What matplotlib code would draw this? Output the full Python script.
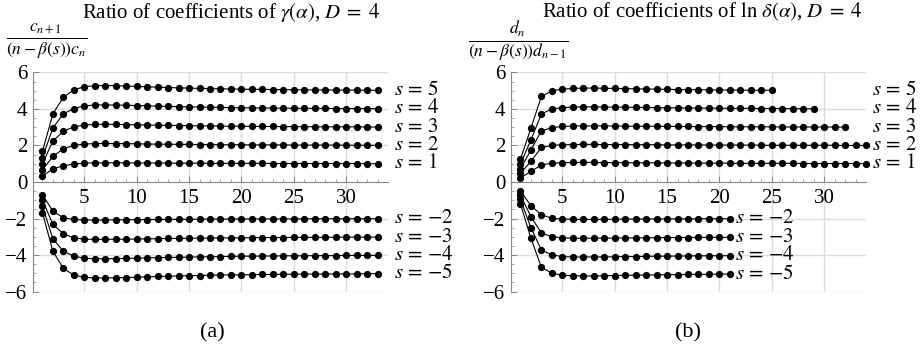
import numpy as np
import matplotlib
matplotlib.use("Agg")
import matplotlib.pyplot as plt

plt.rcParams['font.family'] = ['Liberation Serif', 'DejaVu Serif']
plt.rcParams['mathtext.fontset'] = 'stix'

# panel (a): c_{n+1} / ((n - beta(s)) c_n), n = 1..33
s_labels_pos = [5, 4, 3, 2, 1]
s_labels_neg = [-2, -3, -4, -5]

a_s5 = [1.67, 3.73, 4.64, 5.04, 5.22, 5.27, 5.28, 5.27, 5.25, 5.23, 5.21, 5.19, 5.17, 5.15, 5.14, 5.12, 5.11,
        5.10, 5.09, 5.08, 5.07, 5.07, 5.06, 5.05, 5.05, 5.04, 5.04, 5.04, 5.03, 5.03, 5.03, 5.02, 5.02]
a_s4 = [1.33, 2.96, 3.73, 4.02, 4.17, 4.21, 4.22, 4.21, 4.20, 4.18, 4.17, 4.15, 4.14, 4.12, 4.11, 4.10, 4.09,
        4.08, 4.07, 4.06, 4.06, 4.05, 4.05, 4.04, 4.04, 4.03, 4.03, 4.03, 4.02, 4.02, 4.02, 4.02, 4.01]
a_s3 = [1.00, 2.24, 2.78, 3.02, 3.12, 3.15, 3.16, 3.15, 3.14, 3.13, 3.12, 3.11, 3.10, 3.09, 3.08, 3.07, 3.07,
        3.06, 3.05, 3.05, 3.04, 3.04, 3.04, 3.03, 3.03, 3.03, 3.02, 3.02, 3.02, 3.02, 3.02, 3.01, 3.01]
a_s2 = [0.67, 1.40, 1.82, 2.00, 2.08, 2.10, 2.11, 2.10, 2.10, 2.09, 2.08, 2.07, 2.07, 2.06, 2.06, 2.05, 2.05,
        2.04, 2.04, 2.04, 2.03, 2.03, 2.03, 2.03, 2.02, 2.02, 2.02, 2.02, 2.02, 2.01, 2.01, 2.01, 2.01]
a_s1 = [0.31, 0.73, 0.89, 0.98, 1.03, 1.05, 1.05, 1.05, 1.05, 1.04, 1.04, 1.04, 1.03, 1.03, 1.03, 1.03, 1.02,
        1.02, 1.02, 1.02, 1.02, 1.02, 1.01, 1.01, 1.01, 1.01, 1.01, 1.01, 1.01, 1.01, 1.01, 1.00, 1.00]
a_sm2 = [-0.69, -1.60, -1.96, -2.05, -2.08, -2.08, -2.08, -2.07, -2.07, -2.06, -2.06, -2.05, -2.05, -2.04, -2.04,
         -2.04, -2.03, -2.03, -2.03, -2.03, -2.02, -2.02, -2.02, -2.02, -2.02, -2.02, -2.01, -2.01, -2.01, -2.01,
         -2.01, -2.01, -2.01]
a_sm3 = [-0.98, -2.32, -2.83, -3.06, -3.13, -3.14, -3.14, -3.13, -3.13, -3.12, -3.11, -3.10, -3.09, -3.09, -3.08,
         -3.07, -3.07, -3.06, -3.06, -3.05, -3.05, -3.04, -3.04, -3.04, -3.03, -3.03, -3.03, -3.03, -3.02, -3.02,
         -3.02, -3.02, -3.02]
a_sm4 = [-1.33, -3.10, -3.79, -4.06, -4.17, -4.20, -4.20, -4.19, -4.18, -4.17, -4.15, -4.14, -4.13, -4.12, -4.11,
         -4.10, -4.09, -4.08, -4.07, -4.06, -4.06, -4.05, -4.05, -4.04, -4.04, -4.04, -4.03, -4.03, -4.03, -4.02,
         -4.02, -4.02, -4.02]
a_sm5 = [-1.68, -3.79, -4.73, -5.09, -5.22, -5.25, -5.25, -5.24, -5.23, -5.21, -5.19, -5.17, -5.16, -5.14, -5.13,
         -5.12, -5.10, -5.09, -5.08, -5.08, -5.07, -5.06, -5.06, -5.05, -5.05, -5.04, -5.04, -5.04, -5.03, -5.03,
         -5.03, -5.02, -5.02]

# panel (b): d_n / ((n - beta(s)) d_{n-1}), series of different length
b_s5 = [1.25, 2.94, 4.68, 4.99, 5.08, 5.12, 5.14, 5.14, 5.13, 5.12, 5.11, 5.10, 5.09, 5.08, 5.07, 5.06, 5.05,
        5.05, 5.04, 5.04, 5.03, 5.03, 5.02, 5.02, 5.02]
b_s4 = [0.98, 2.30, 3.72, 4.00, 4.07, 4.10, 4.11, 4.11, 4.10, 4.10, 4.09, 4.08, 4.08, 4.07, 4.06, 4.06, 4.05,
        4.05, 4.04, 4.04, 4.03, 4.03, 4.03, 4.02, 4.02, 4.02, 4.02, 4.01, 4.01]
b_s3 = [0.71, 1.75, 2.80, 2.97, 3.04, 3.06, 3.07, 3.07, 3.07, 3.06, 3.06, 3.05, 3.05, 3.05, 3.04, 3.04, 3.04,
        3.03, 3.03, 3.03, 3.02, 3.02, 3.02, 3.02, 3.02, 3.01, 3.01, 3.01, 3.01, 3.01, 3.01, 3.00]
b_s2 = [0.47, 1.13, 1.89, 2.00, 2.04, 2.05, 2.06, 2.06, 2.05, 2.05, 2.05, 2.04, 2.04, 2.04, 2.03, 2.03, 2.03,
        2.03, 2.02, 2.02, 2.02, 2.02, 2.02, 2.01, 2.01, 2.01, 2.01, 2.01, 2.01, 2.01, 2.01, 2.00, 2.00, 2.00]
b_s1 = [0.22, 0.58, 0.93, 1.03, 1.06, 1.07, 1.07, 1.07, 1.06, 1.06, 1.06, 1.05, 1.05, 1.05, 1.04, 1.04, 1.04,
        1.03, 1.03, 1.03, 1.03, 1.02, 1.02, 1.02, 1.02, 1.02, 1.02, 1.01, 1.01, 1.01, 1.01, 1.01, 1.01, 1.00]
b_sm2 = [-0.50, -1.29, -1.80, -1.98, -2.03, -2.04, -2.05, -2.05, -2.04, -2.04, -2.03, -2.03, -2.03, -2.02, -2.02,
         -2.02, -2.02, -2.01, -2.01, -2.01, -2.01]
b_sm3 = [-0.72, -1.89, -2.79, -2.99, -3.06, -3.08, -3.08, -3.08, -3.07, -3.07, -3.06, -3.06, -3.05, -3.05, -3.04,
         -3.04, -3.04, -3.03, -3.03, -3.03, -3.03]
b_sm4 = [-0.95, -2.50, -3.72, -3.99, -4.08, -4.10, -4.11, -4.10, -4.10, -4.09, -4.08, -4.08, -4.07, -4.06, -4.06,
         -4.05, -4.05, -4.04, -4.04, -4.04, -4.03]
b_sm5 = [-1.20, -3.07, -4.67, -4.99, -5.10, -5.13, -5.14, -5.14, -5.13, -5.12, -5.11, -5.10, -5.09, -5.08, -5.07,
         -5.07, -5.06, -5.05, -5.05, -5.04, -5.04]

x_ticks = [5, 10, 15, 20, 25, 30]
y_ticks = [-6, -4, -2, 0, 2, 4, 6]


def fmt_s(s):
    return r'$s\,=\,{%d}$' % s


def setup(ax):
    ax.set_xlim(0.1, 34)
    ax.set_ylim(-6.02, 6.02)
    for side in ['top', 'right']:
        ax.spines[side].set_visible(False)
    ax.spines['bottom'].set_position(('data', 0))
    for side in ['bottom', 'left']:
        ax.spines[side].set_color('#888888')
        ax.spines[side].set_linewidth(0.8)
    ax.set_xticks(x_ticks)
    ax.set_xticks(np.arange(1, 34), minor=True)
    ax.set_yticks(y_ticks)
    ax.set_yticks(np.arange(-6, 6.01, 0.5), minor=True)
    ax.set_yticklabels([str(v).replace('-', u'\u2212') for v in y_ticks])
    ax.tick_params(direction='in', length=4, width=0.7, color='#888888', labelsize=15, pad=4)
    ax.tick_params(which='minor', direction='in', length=2, width=0.5, color='#888888')
    ax.tick_params(axis='x', pad=5)
    for xv in x_ticks:
        ax.axvline(xv, color='#dddddd', lw=1.0, zorder=0)
    for yv in y_ticks:
        if yv != 0:
            ax.axhline(yv, color='#dddddd', lw=1.0, zorder=0)


def draw(ax, series, labels, label_x):
    for vals, s in zip(series, labels):
        n = np.arange(1, len(vals) + 1)
        ax.plot(n, vals, '-', color='black', lw=0.8, marker='o', ms=4.2, clip_on=False, zorder=3)
        lx = label_x if label_x is not None else len(vals) + 0.5
        ax.text(lx, vals[-1], fmt_s(s), fontsize=15, va='center', ha='left', clip_on=False)


fig = plt.figure(figsize=(9.24, 3.51), dpi=100)
axa = fig.add_axes([33 / 924, 59 / 351, 355 / 924, 220 / 351])
axb = fig.add_axes([511 / 924, 59 / 351, 355 / 924, 220 / 351])

setup(axa)
setup(axb)

draw(axa, [a_s5, a_s4, a_s3, a_s2, a_s1], s_labels_pos, 34.6)
draw(axa, [a_sm2, a_sm3, a_sm4, a_sm5], s_labels_neg, 34.6)
draw(axb, [b_s5, b_s4, b_s3, b_s2, b_s1], s_labels_pos, 34.6)
draw(axb, [b_sm2, b_sm3, b_sm4, b_sm5], s_labels_neg, None)

fig.text(231 / 924, 1 - 12 / 351, r'Ratio of coefficients of $\gamma(\alpha)$, $D\;=\;4$',
         ha='center', va='center', fontsize=15)
fig.text(702 / 924, 1 - 12 / 351, r'Ratio of coefficients of $\ln\,\delta(\alpha)$, $D\;=\;4$',
         ha='center', va='center', fontsize=15)
fig.text(47 / 924, 1 - 42 / 351, r'$\frac{c_{n+1}}{(n-\beta(s))c_n}$', ha='center', va='center', fontsize=18)
fig.text(518 / 924, 1 - 42 / 351, r'$\frac{d_n}{(n-\beta(s))d_{n-1}}$', ha='center', va='center', fontsize=18)
fig.text(212 / 924, 1 - 333 / 351, '(a)', ha='center', va='center', fontsize=16)
fig.text(688 / 924, 1 - 333 / 351, '(b)', ha='center', va='center', fontsize=16)

fig.savefig('out.png', dpi=100)
